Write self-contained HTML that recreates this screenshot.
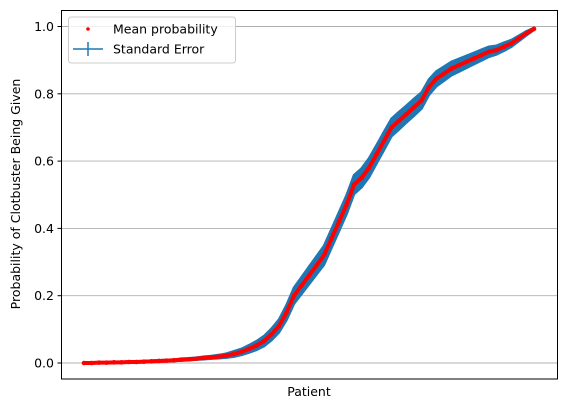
<!DOCTYPE html>
<html><head><meta charset="utf-8"><style>
body{margin:0;background:#fff;}
svg{display:block;font-family:"DejaVu Sans","Liberation Sans",sans-serif;}
</style></head><body>
<svg id="chart" width="567" height="409">
<rect x="0" y="0" width="567" height="409" fill="#fff"/>
<g id="grid"></g>
<g id="errs"></g>
<g id="marks"></g>
<rect x="61.5" y="10.5" width="496" height="368.5" fill="none" stroke="#000" stroke-width="1"/>
<g id="yticks"></g>
<text x="309" y="396" font-size="12.5" text-anchor="middle">Patient</text>
<text transform="translate(20,194) rotate(-90)" font-size="12.5" text-anchor="middle">Probability of Clotbuster Being Given</text>
<g>
<rect x="68.5" y="17" width="167" height="46" rx="3" fill="#fff" fill-opacity="0.8" stroke="#ccc"/>
<circle cx="88" cy="29" r="1.8" fill="#ff0000"/>
<text x="113" y="33.5" font-size="12.5">Mean probability</text>
<line x1="73" y1="49" x2="103" y2="49" stroke="#1f77b4" stroke-width="1.5"/>
<line x1="88" y1="42" x2="88" y2="56" stroke="#1f77b4" stroke-width="1.5"/>
<text x="113" y="53.5" font-size="12.5">Standard Error</text>
</g>
</svg>
<script>
const patients=[];for(let i=0;i<61;i++)patients.push(i);
const means=[0.000,0.000,0.001,0.001,0.002,0.002,0.003,0.003,0.004,0.005,0.006,0.007,0.008,0.010,0.011,0.013,0.015,0.017,0.019,0.022,0.027,0.033,0.042,0.052,0.065,0.085,0.11,0.15,0.20,0.23,0.26,0.29,0.32,0.37,0.42,0.47,0.53,0.55,0.58,0.62,0.66,0.70,0.72,0.74,0.76,0.78,0.82,0.845,0.86,0.875,0.885,0.895,0.905,0.915,0.925,0.93,0.94,0.95,0.965,0.98,0.993];
const stderrs=[0.001,0.001,0.001,0.001,0.001,0.001,0.001,0.001,0.002,0.002,0.002,0.002,0.002,0.003,0.003,0.003,0.004,0.004,0.005,0.006,0.008,0.009,0.011,0.013,0.015,0.017,0.019,0.022,0.024,0.025,0.026,0.027,0.028,0.028,0.028,0.028,0.028,0.028,0.028,0.027,0.027,0.026,0.026,0.025,0.025,0.024,0.023,0.022,0.021,0.02,0.019,0.018,0.017,0.016,0.015,0.013,0.012,0.01,0.008,0.006,0.003];
const yTicks=[0.0,0.2,0.4,0.6,0.8,1.0];
const yTickLabels=["0.0","0.2","0.4","0.6","0.8","1.0"];
const NS="http://www.w3.org/2000/svg";
const xs=p=>84+p*(534-84)/(patients.length-1);
const ys=v=>363-v*336.5;
const grid=document.getElementById('grid'),yt=document.getElementById('yticks'),errs=document.getElementById('errs'),marks=document.getElementById('marks');
yTicks.forEach((t,i)=>{
 const l=document.createElementNS(NS,'line');
 l.setAttribute('x1',61.5);l.setAttribute('x2',557.5);l.setAttribute('y1',ys(t));l.setAttribute('y2',ys(t));
 l.setAttribute('stroke','#b0b0b0');l.setAttribute('stroke-width','0.9');
 
 
 grid.appendChild(l);
 const tk=document.createElementNS(NS,'line');
 tk.setAttribute('x1',57.5);tk.setAttribute('x2',61.5);tk.setAttribute('y1',ys(t));tk.setAttribute('y2',ys(t));tk.setAttribute('stroke','#000');
 
 
 yt.appendChild(tk);
 const tx=document.createElementNS(NS,'text');
 tx.setAttribute('x',54);tx.setAttribute('y',ys(t)+4.5);tx.setAttribute('text-anchor','end');tx.setAttribute('font-size','12.5');
 tx.textContent=yTickLabels[i];
 
 
 yt.appendChild(tx);
});
let up='',dn='';
patients.forEach((p,i)=>{up+=(i?'L':'M')+xs(p)+','+ys(means[i]+stderrs[i]);});
for(let i=patients.length-1;i>=0;i--){dn+='L'+xs(patients[i])+','+ys(means[i]-stderrs[i]);}
const band=document.createElementNS(NS,'path');
band.setAttribute('d',up+dn+'Z');band.setAttribute('fill','#1f77b4');band.setAttribute('stroke','#1f77b4');band.setAttribute('stroke-width','2.5');band.setAttribute('stroke-linejoin','round');


errs.appendChild(band);
patients.forEach((p,i)=>{
 const r=document.createElementNS(NS,'line');
 r.setAttribute('x1',xs(p));r.setAttribute('x2',xs(p));
 r.setAttribute('y1',ys(means[i]+stderrs[i])-1);r.setAttribute('y2',ys(means[i]-stderrs[i])+1);
 r.setAttribute('stroke','#1f77b4');r.setAttribute('stroke-width','1.5');
 
 
 errs.appendChild(r);
});
let d='';patients.forEach((p,i)=>{d+=(i?'L':'M')+xs(p)+','+ys(means[i]);});
const pl=document.createElementNS(NS,'path');
pl.setAttribute('d',d);pl.setAttribute('fill','none');pl.setAttribute('stroke','#ff0000');pl.setAttribute('stroke-width','4');pl.setAttribute('stroke-linecap','round');pl.setAttribute('stroke-linejoin','round');


marks.appendChild(pl);
patients.forEach((p,i)=>{
 const c=document.createElementNS(NS,'circle');
 c.setAttribute('cx',xs(p));c.setAttribute('cy',ys(means[i]));c.setAttribute('r',2.3);c.setAttribute('fill','#ff0000');
 
 
 marks.appendChild(c);
});
</script>
</body></html>
